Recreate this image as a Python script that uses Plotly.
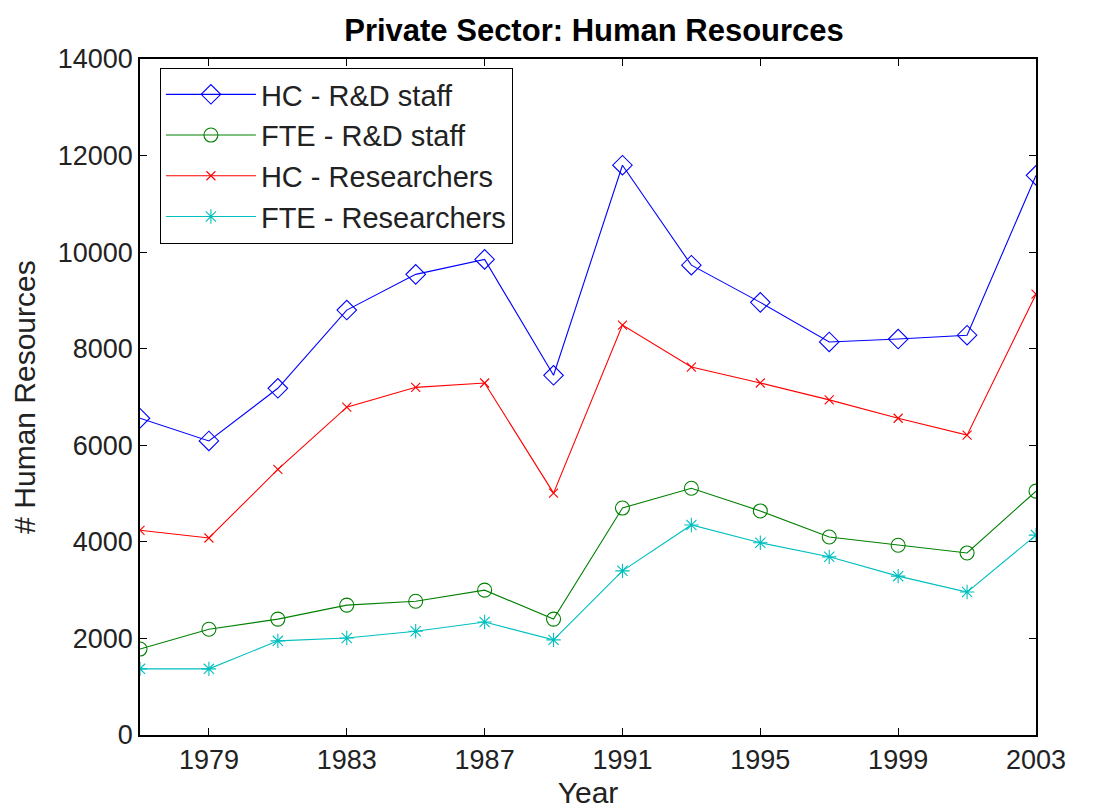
import plotly.graph_objects as go

years = [1977, 1979, 1981, 1983, 1985, 1987, 1989, 1991, 1993, 1995, 1997, 1999, 2001, 2003]
hc_rd_staff = [6560, 6090, 7180, 8800, 9540, 9850, 7450, 11800, 9730, 8960, 8140, 8200, 8280, 11590]
fte_rd_staff = [1780, 2190, 2400, 2690, 2770, 3000, 2400, 4700, 5110, 4640, 4100, 3930, 3770, 5050]
hc_researchers = [4240, 4080, 5500, 6790, 7200, 7290, 5010, 8490, 7620, 7290, 6940, 6560, 6210, 9130]
fte_researchers = [1370, 1370, 1950, 2010, 2150, 2340, 1970, 3400, 4350, 3980, 3690, 3290, 2960, 4140]

series_names = ["HC - R&D staff", "FTE - R&D staff", "HC - Researchers", "FTE - Researchers"]
x_ticks = [1979, 1983, 1987, 1991, 1995, 1999, 2003]
y_ticks = [0, 2000, 4000, 6000, 8000, 10000, 12000, 14000]
y_tick_labels = ["0", "2000", "4000", "6000", "8000", "10000", "12000", "14000"]

styles = [
    ("#0000ff", "diamond-open", 15),
    ("#008000", "circle-open", 14),
    ("#ff0000", "x-thin-open", 9),
    ("#00bfbf", "asterisk-open", 12),
]

fig = go.Figure()
for name, vals, (col, sym, sz) in zip(series_names,
                                      [hc_rd_staff, fte_rd_staff, hc_researchers, fte_researchers],
                                      styles):
    fig.add_trace(go.Scatter(
        x=years, y=vals, name=name, mode="lines+markers",
        line=dict(color=col, width=1.1),
        marker=dict(symbol=sym, size=sz, color=col, line=dict(color=col, width=1.1)),
    ))

font_family = "Liberation Sans, Arial, sans-serif"
fig.update_layout(
    width=1096, height=808,
    margin=dict(l=132, r=68, t=51, b=81),
    paper_bgcolor="white", plot_bgcolor="white",
    font=dict(family=font_family, size=27, color="#222222"),
    title=dict(text="<b>Private Sector: Human Resources</b>", x=0.5347, xanchor="center",
               y=0.973, yanchor="middle", font=dict(size=31, color="black")),
    showlegend=True,
    legend=dict(x=0.022, y=0.987, xanchor="left", yanchor="top",
                bgcolor="white", bordercolor="black", borderwidth=1.2,
                font=dict(size=29), tracegroupgap=0, itemwidth=90),
)
fig.update_xaxes(
    range=[1977, 2003], tickvals=x_ticks, ticks="inside", ticklen=7, tickcolor="black",
    showline=True, linecolor="black", linewidth=1.5, mirror="ticks", showgrid=False,
    zeroline=False, title=dict(text="Year", standoff=8, font=dict(size=30)), tickfont=dict(size=27),
)
fig.update_yaxes(
    range=[0, 14000], tickvals=y_ticks, ticktext=y_tick_labels, ticks="inside", ticklen=7,
    tickcolor="black", showline=True, linecolor="black", linewidth=1.5, mirror="ticks",
    showgrid=False, zeroline=False,
    title=dict(text="# Human Resources", standoff=14, font=dict(size=30)), tickfont=dict(size=27),
)

fig.write_html("out.html")
